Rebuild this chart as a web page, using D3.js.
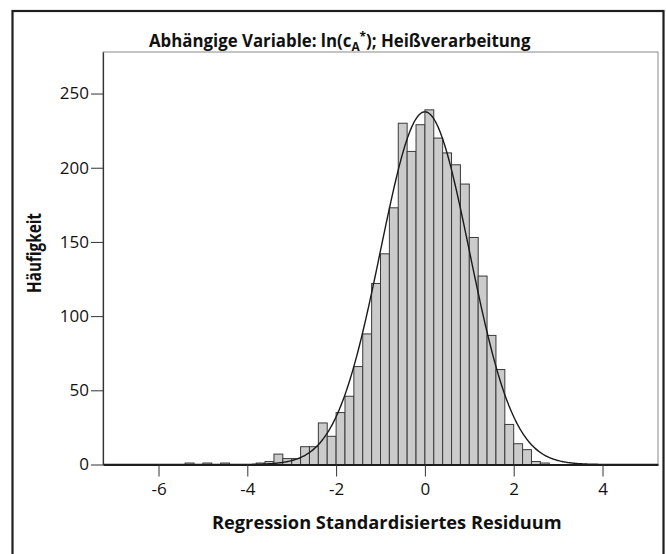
<!DOCTYPE html>
<html>
<head>
<meta charset="utf-8">
<script src="https://cdn.jsdelivr.net/npm/d3@7"></script>
<style>
    body { margin: 0; background: #fff; }
    #chart { width: 666px; height: 554px; }
    text { font-family: "Open Sans", "Noto Sans", sans-serif; fill: #111; }
</style>
</head>
<body>
<div id="chart"></div>
<script>
// Histogram of standardized residuals with normal curve
// Lower bin edges (bin width 0.2) and frequencies
const binStarts = [-5.4, -5.0, -4.6, -3.8, -3.6, -3.4, -3.2, -3.0, -2.8, -2.6,
    -2.4, -2.2, -2.0, -1.8, -1.6, -1.4, -1.2, -1.0, -0.8, -0.6,
    -0.4, -0.2, 0.0, 0.2, 0.4, 0.6, 0.8, 1.0, 1.2, 1.4,
    1.6, 1.8, 2.0, 2.2, 2.4, 2.6];
const counts = [1, 1, 1, 1, 2, 7, 4, 4, 12, 12,
    28, 19, 35, 46, 66, 88, 122, 142, 173, 230,
    211, 229, 239, 220, 210, 202, 189, 153, 127, 87,
    64, 27, 14, 10, 2, 1];
const binWidth = 0.2;

// Normal curve parameters (standardized residual)
const curveMean = 0;
const curveSD = 1;

const xTicks = [-6, -4, -2, 0, 2, 4];
const yTicks = [0, 50, 100, 150, 200, 250];

const titleText = 'Abhängige Variable: ln(c';
const xLabel = 'Regression Standardisiertes Residuum';
const yLabel = 'Häufigkeit';

document.addEventListener('DOMContentLoaded', () => {
    const width = 666, height = 554;
    const plot = { left: 103, right: 658, top: 52, bottom: 464.5 };

    const svg = d3.select('#chart')
        .append('svg')
        .attr('width', width)
        .attr('height', height);

    // Outer frame (open at the bottom, runs past the picture)
    svg.append('rect')
        .attr('x', 12.5).attr('y', 11)
        .attr('width', 651).attr('height', 570)
        .attr('fill', 'none')
        .attr('stroke', '#1e1e1e')
        .attr('stroke-width', 2.2);

    const x = d3.scaleLinear().domain([-7.25, 5.25]).range([plot.left, plot.right]);
    const y = d3.scaleLinear().domain([0, 278]).range([plot.bottom, plot.top]);

    // Plot box
    svg.append('rect')
        .attr('x', plot.left).attr('y', plot.top)
        .attr('width', plot.right - plot.left)
        .attr('height', plot.bottom - plot.top)
        .attr('fill', 'none')
        .attr('stroke', '#8a8a8a')
        .attr('stroke-width', 1);

    // Bars
    const bins = binStarts.map((b, i) => ({ x0: b, x1: b + binWidth, n: counts[i] }));
    svg.append('g')
        .selectAll('rect')
        .data(bins)
        .join('rect')
        .attr('x', d => x(d.x0))
        .attr('y', d => y(d.n))
        .attr('width', d => x(d.x1) - x(d.x0))
        .attr('height', d => y(0) - y(d.n))
        .attr('fill', '#cbcbcb')
        .attr('stroke', '#3a3a3a')
        .attr('stroke-width', 1);

    // Normal curve scaled to the histogram
    const total = d3.sum(counts);
    const pdf = v => Math.exp(-0.5 * ((v - curveMean) / curveSD) ** 2) / (curveSD * Math.sqrt(2 * Math.PI));
    const curvePts = d3.range(x.domain()[0], x.domain()[1] + 0.001, 0.02);
    svg.append('path')
        .datum(curvePts)
        .attr('fill', 'none')
        .attr('stroke', '#1a1a1a')
        .attr('stroke-width', 1.4)
        .attr('d', d3.line().x(v => x(v)).y(v => y(total * binWidth * pdf(v))));

    // Axes (plain hyphen for negatives, like the original)
    const xAxis = svg.append('g')
        .attr('transform', `translate(0,${plot.bottom})`)
        .call(d3.axisBottom(x).tickValues(xTicks).tickFormat(d => String(d))
            .tickSize(12).tickSizeOuter(0).tickPadding(6));
    const yAxis = svg.append('g')
        .attr('transform', `translate(${plot.left},0)`)
        .call(d3.axisLeft(y).tickValues(yTicks).tickSize(12).tickSizeOuter(0).tickPadding(2));

    [xAxis, yAxis].forEach(a => {
        a.selectAll('text')
            .attr('font-family', '"Open Sans", sans-serif')
            .attr('font-size', 17)
            .attr('fill', '#222');
        a.selectAll('line').attr('stroke', '#333');
    });
    xAxis.select('.domain').attr('stroke', '#1e1e1e').attr('stroke-width', 2);
    yAxis.select('.domain').attr('stroke', '#333').attr('stroke-width', 1.2);

    // Condensed-looking bold labels: draw, measure, squeeze to width
    function squeeze(sel, targetWidth) {
        const w = sel.node().getComputedTextLength();
        return targetWidth / w;
    }

    // Title with subscript A and superscript *
    const title = svg.append('text')
        .attr('font-weight', 'bold')
        .attr('font-size', 17);
    title.append('tspan').text(titleText);
    title.append('tspan').attr('font-size', 12).attr('dy', 4).text('A');
    title.append('tspan').attr('font-size', 12).attr('dy', -10).text('*');
    title.append('tspan').attr('dy', 6).text('); Heißverarbeitung');
    const tw = title.node().getBBox().width;
    title.attr('transform', `translate(149,47) scale(${382 / tw},1)`);

    const xl = svg.append('text')
        .attr('font-weight', 'bold')
        .attr('font-size', 18.5)
        .text(xLabel);
    xl.attr('transform', `translate(212,529) scale(${squeeze(xl, 350)},1)`);

    const yl = svg.append('text')
        .attr('font-weight', 'bold')
        .attr('font-size', 19)
        .attr('text-anchor', 'middle')
        .text(yLabel);
    yl.attr('transform', `translate(41,253) rotate(-90) scale(${squeeze(yl, 80)},1)`);
});
</script>
</body>
</html>
